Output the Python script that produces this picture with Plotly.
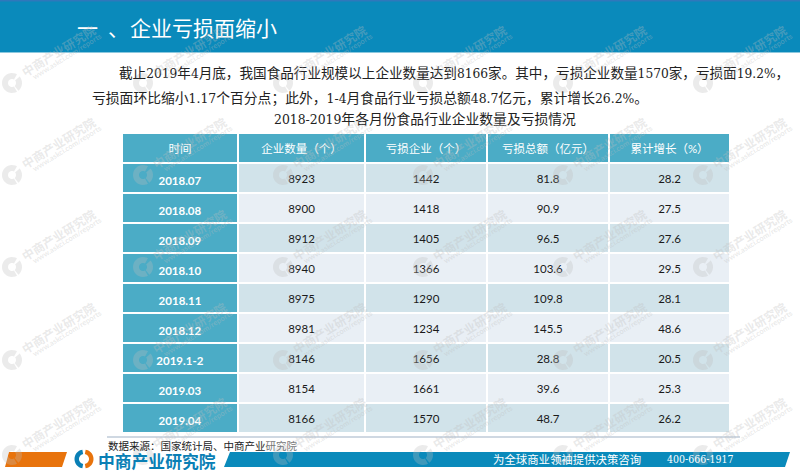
import numpy as np
import plotly.graph_objects as go

W = 800
H = 475

# table data
header = ["时间", "企业数量（个）", "亏损企业（个）", "亏损总额（亿元）", "累计增长（%）"]
months = ["2018.07", "2018.08", "2018.09", "2018.10", "2018.11", "2018.12", "2019.1-2", "2019.03", "2019.04"]
companies = [8923, 8900, 8912, 8940, 8975, 8981, 8146, 8154, 8166]
loss_companies = [1442, 1418, 1405, 1366, 1290, 1234, 1656, 1661, 1570]
loss_total = ["81.8", "90.9", "96.5", "103.6", "109.8", "145.5", "28.8", "39.6", "48.7"]
growth = ["28.2", "27.5", "27.6", "29.5", "28.1", "48.6", "20.5", "25.3", "26.2"]

line1 = "截止2019年4月底，我国食品行业规模以上企业数量达到8166家。其中，亏损企业数量1570家，亏损面19.2%，"
line2 = "亏损面环比缩小1.17个百分点；此外，1-4月食品行业亏损总额48.7亿元，累计增长26.2%。"
table_title = "2018-2019年各月份食品行业企业数量及亏损情况"

TEAL = "#4bacc6"
BLUE = "#0a8abb"
ORANGE = "#e8730c"
SERIF = "'DejaVu Serif Condensed','Liberation Serif','Noto Sans CJK SC'"
SANS = "'Noto Sans CJK SC'"


def px(x):
    return x / W


def py(y):
    return 1 - y / H


def poly(points):
    return "M" + " L".join(f"{px(x):.5f},{py(y):.5f}" for x, y in points) + " Z"


def arc(cx, cy, r0, r1, a0, a1):
    a = np.radians(np.linspace(a0, a1, 24))
    pts = [(cx + r1 * np.cos(t), cy - r1 * np.sin(t)) for t in a]
    pts += [(cx + r0 * np.cos(t), cy - r0 * np.sin(t)) for t in a[::-1]]
    return poly(pts)


def rect(x0, y0, x1, y1, color):
    return dict(type="rect", xref="paper", yref="paper", x0=px(x0), x1=px(x1), y0=py(y0), y1=py(y1),
                fillcolor=color, line_width=0, layer="below")


def shape(path, color, layer="below"):
    return dict(type="path", xref="paper", yref="paper", path=path, fillcolor=color, line_width=0, layer=layer)


def label(x, y, text, size, color="#222222", family=SERIF, anchor="left", angle=0):
    return dict(xref="paper", yref="paper", x=px(x), y=py(y), text=text, showarrow=False,
                xanchor=anchor, yanchor="middle", textangle=angle,
                font=dict(size=size, color=color, family=family))


n = len(months)
row_fill = ["#d1e3ea" if i % 2 == 0 else "#e9eff5" for i in range(n)]

fig = go.Figure(go.Table(
    domain=dict(x=[px(122), px(730)], y=[py(433), py(133)]),
    columnwidth=[116, 127, 122, 122, 121],
    header=dict(values=header, height=30, fill_color=TEAL, align="center",
                line=dict(color="white", width=1.5),
                font=dict(size=11.5, color="white", family="Lato, 'Noto Sans CJK SC'")),
    cells=dict(values=[[f"<b>{m}</b>" for m in months], companies, loss_companies, loss_total, growth],
               height=30, align="center",
               fill_color=[[TEAL] * n, row_fill, row_fill, row_fill, row_fill],
               line=dict(color="white", width=1.5),
               font=dict(size=11.5, color=["white", "#1a1a1a", "#1a1a1a", "#1a1a1a", "#1a1a1a"], family="Lato")),
))

shapes = [
    rect(0, 0, 800, 52, BLUE),
    rect(0, 0, 800, 1.5, "#2f78bb"),
    rect(0, 52, 800, 53, "#8cc8de"),
    rect(107, 436.5, 740, 437.5, "#9fb2c6"),
    shape(poly([(5, 467), (9, 452), (67, 452), (62, 467)]), ORANGE),
    shape(poly([(224, 467), (230, 452), (790, 452), (785, 467)]), BLUE),
    shape(arc(84, 459, 5, 9.5, 100, 260), "#0a7fb5"),
    shape(arc(84, 459, 5, 9.5, -80, 80), ORANGE),
]

annotations = [
    label(75, 27, "一", 21, "white", SANS),
    label(106, 27, "、", 21, "white", SANS),
    label(128, 27, "企业亏损面缩小", 21, "white", SANS),
    label(117, 73, line1, 13.6),
    label(90, 98, line2, 13.8),
    label(425, 119, table_title, 13.8, anchor="center"),
    label(106, 445, "数据来源：国家统计局、中商产业<span style='color:#777777'>研究院</span>", 10.5, "#222222", SANS),
    label(96, 461, "<b>中商产业研究院</b>", 16.8, "#0a7fb5", SANS),
    label(491, 459, "为全球商业领袖提供决策咨询", 11.4, "white", SANS),
    label(665, 459, "400-666-1917", 10.5, "white", SERIF),
]

# faint watermark repeated over the whole page
for wy in [83, 175, 267, 360, 455]:
    for wx in [12, 143, 283, 423, 563, 703]:
        shapes.append(shape(arc(wx, wy, 4, 10, 60, 300), "rgba(190,190,190,0.3)", "above"))
        shapes.append(shape(arc(wx, wy, 4, 10, -50, 40), "rgba(190,190,190,0.3)", "above"))
        annotations.append(label(wx + 46, wy - 33, "<b>中商产业研究院</b>", 12, "rgba(190,190,190,0.33)", SANS, "center", -32))
        annotations.append(label(wx + 55, wy - 27, "<b>www.askci.com/reports</b>", 7.5, "rgba(190,190,190,0.33)", "Lato", "center", -32))

fig.update_layout(width=W, height=H, margin=dict(l=0, r=0, t=0, b=0), paper_bgcolor="white",
                  showlegend=False, shapes=shapes, annotations=annotations)

# page without margins, table text sits a bit lower in its cells
post = """document.body.style.margin='0';document.body.style.overflow='hidden';
var st=document.createElement('style');st.textContent='.cell-text{transform:translateY(3px)}';document.head.appendChild(st);"""
fig.write_html("out.html", config=dict(displayModeBar=False), post_script=post)
